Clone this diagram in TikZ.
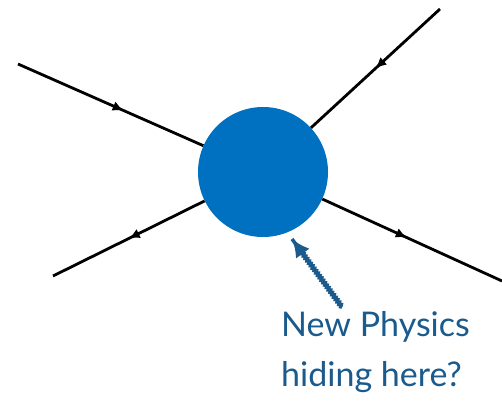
\documentclass[tikz,border=0pt]{standalone}
\usepackage{fontspec}
\newfontfamily\handfont{Lato}
\usetikzlibrary{decorations.markings,decorations.pathmorphing,arrows.meta,calc}
\definecolor{blob}{RGB}{0,112,192}
\definecolor{note}{RGB}{26,90,140}
\tikzset{
  fermion/.style={line width=2.8pt, black, postaction={decorate},
    decoration={markings, mark=at position #1 with {\arrow{Latex[length=11pt,width=10pt]}}}},
  blobstyle/.style={circle, fill=blob, minimum size=130pt, inner sep=0pt},
  notestyle/.style={text=note, font=\handfont\fontsize{34}{50}\selectfont, align=left, anchor=north west, inner sep=0pt},
  pointer/.style={note, line width=3.5pt, decorate, decoration={snake, amplitude=0.9pt, segment length=3pt, post length=14pt}}
}
\begin{document}
\begin{tikzpicture}[x=1pt,y=-1pt]
\useasboundingbox (0,0) rectangle (502,401);
\node[blobstyle] (c) at (263,172) {};
\coordinate (ul) at (18,64);
\coordinate (ur) at (440,9);
\coordinate (ll) at (53,276);
\coordinate (lr) at (502,281);
\draw[fermion=0.57] (ul) -- (c);
\draw[fermion=0.5] (ur) -- (c);
\draw[fermion=0.5] (c) -- (ll);
\draw[fermion=0.47] (c) -- (lr);
\node[notestyle] (t) at (281,311) {New Physics\\hiding here?};
\coordinate (ptail) at (342,307);
\coordinate (phead) at (292,239);
\draw[pointer] (ptail) -- (phead);
\draw[note, line width=3.5pt, -{Latex[length=18pt,width=17pt]}] ($(phead)!16pt!(ptail)$) -- (phead);
\end{tikzpicture}
\end{document}
